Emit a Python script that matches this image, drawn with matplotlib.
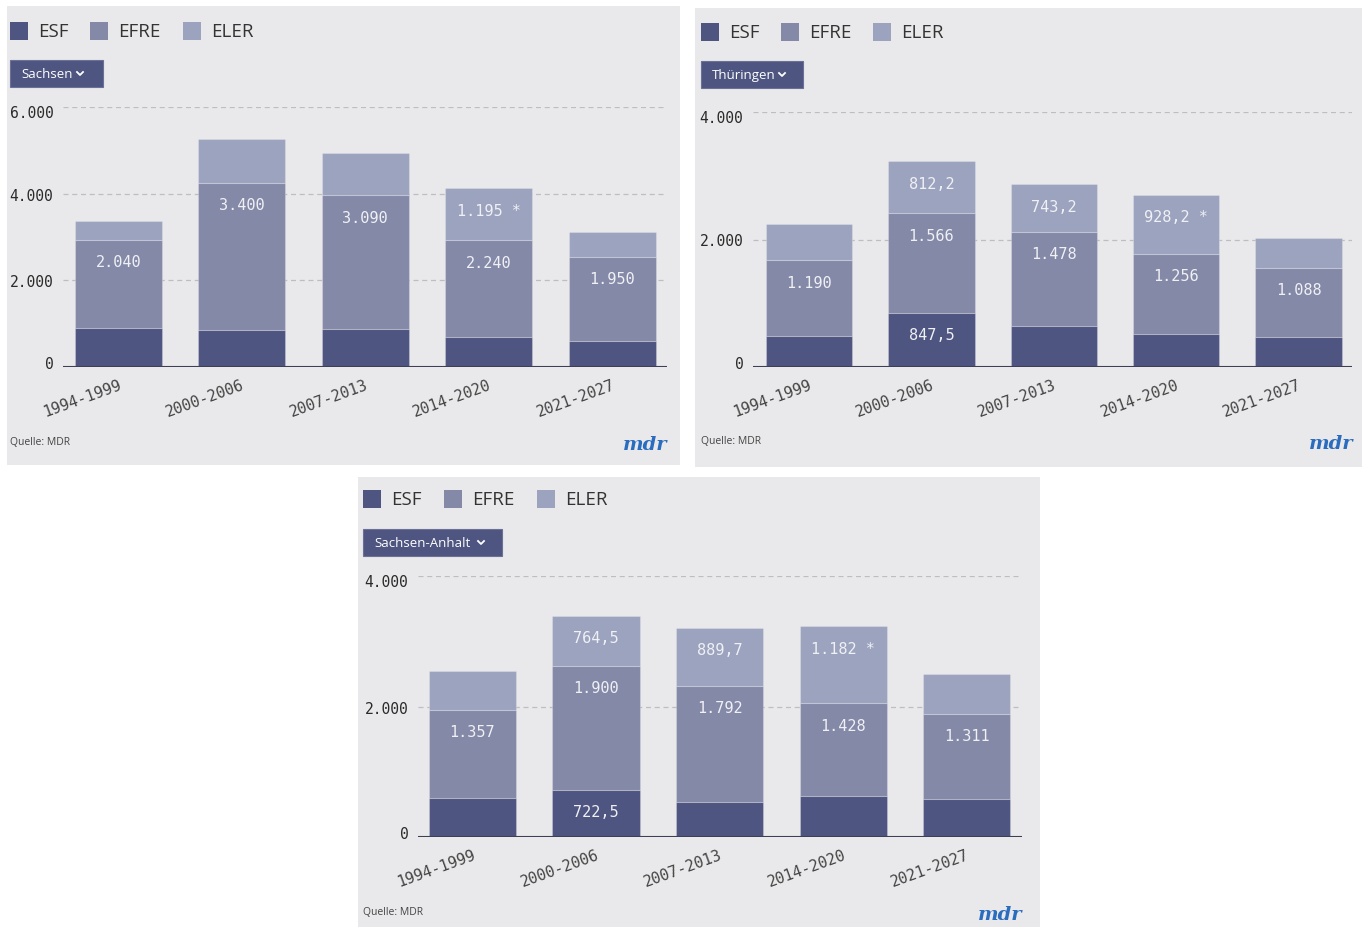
import matplotlib
matplotlib.use("Agg")
import matplotlib.pyplot as plt
from matplotlib.patches import Rectangle
from matplotlib.lines import Line2D
from matplotlib.transforms import ScaledTranslation

# ---------------- data ----------------
periods = ["1994-1999", "2000-2006", "2007-2013", "2014-2020", "2021-2027"]
series_names = ["ESF", "EFRE", "ELER"]

sachsen_esf = [900, 850, 873, 690, 598]
sachsen_efre = [2040, 3400, 3090, 2240, 1950]
sachsen_eler = [420, 1010, 980, 1195, 560]
sachsen_esf_labels = ["", "", "", "", ""]
sachsen_efre_labels = ["2.040", "3.400", "3.090", "2.240", "1.950"]
sachsen_eler_labels = ["", "", "", "1.195 *", ""]
sachsen_yticks = [0, 2000, 4000, 6000]
sachsen_yticklabels = ["0", "2.000", "4.000", "6.000"]

thueringen_esf = [486, 847.5, 643, 518, 470]
thueringen_efre = [1190, 1566, 1478, 1256, 1088]
thueringen_eler = [560, 812.2, 743.2, 928.2, 470]
thueringen_esf_labels = ["", "847,5", "", "", ""]
thueringen_efre_labels = ["1.190", "1.566", "1.478", "1.256", "1.088"]
thueringen_eler_labels = ["", "812,2", "743,2", "928,2 *", ""]
thueringen_yticks = [0, 2000, 4000]
thueringen_yticklabels = ["0", "2.000", "4.000"]

anhalt_esf = [591, 722.5, 529, 623, 576]
anhalt_efre = [1357, 1900, 1792, 1428, 1311]
anhalt_eler = [600, 764.5, 889.7, 1182, 610]
anhalt_esf_labels = ["", "722,5", "", "", ""]
anhalt_efre_labels = ["1.357", "1.900", "1.792", "1.428", "1.311"]
anhalt_eler_labels = ["", "764,5", "889,7", "1.182 *", ""]
anhalt_yticks = [0, 2000, 4000]
anhalt_yticklabels = ["0", "2.000", "4.000"]

# ---------------- style ----------------
W, H = 1367, 928
DPI = 100
colors = ["#4e5580", "#8389a7", "#9ba3be"]
bg = "#e9e9eb"
ui_font = "Open Sans"
mono = "DejaVu Sans Mono"

fig = plt.figure(figsize=(W / DPI, H / DPI), dpi=DPI, facecolor="white")


def fx(x):
    return x / W


def fy(y):
    return 1 - y / H


def panel(bgbox, axbox, xlim, top, legend_x, legend_y, button, btn_text,
          chev_x, quelle_xy, logo_xy, esf, efre, eler, labs, yticks, yticklabels):
    x0, y0, x1, y1 = bgbox
    fig.patches.append(Rectangle((fx(x0), fy(y1)), (x1 - x0) / W, (y1 - y0) / H,
                                 transform=fig.transFigure, facecolor=bg,
                                 edgecolor="none", zorder=-10))
    # legend
    for sx, name, c in zip(legend_x, series_names, colors):
        fig.patches.append(Rectangle((fx(sx), fy(legend_y + 18)), 18 / W, 18 / H,
                                     transform=fig.transFigure, facecolor=c,
                                     edgecolor="none", zorder=1))
        fig.text(fx(sx + 28), fy(legend_y + 9), name, fontsize=13.5,
                 family=ui_font, color="#333333", va="center", ha="left")
    # dropdown button
    bx0, by0, bx1, by1 = button
    fig.patches.append(Rectangle((fx(bx0), fy(by1)), (bx1 - bx0) / W, (by1 - by0) / H,
                                 transform=fig.transFigure, facecolor="#4e5580",
                                 edgecolor="#6a7096", linewidth=0.8, zorder=1))
    fig.text(fx(bx0 + 11), fy((by0 + by1) / 2), btn_text, fontsize=9.5,
             family=ui_font, color="white", va="center", ha="left")
    cy = (by0 + by1) / 2
    fig.lines.append(Line2D([fx(chev_x - 3), fx(chev_x), fx(chev_x + 3)],
                            [fy(cy - 1.5), fy(cy + 1.5), fy(cy - 1.5)],
                            transform=fig.transFigure, color="white", lw=1.3))
    # source + logo
    fig.text(fx(quelle_xy[0]), fy(quelle_xy[1]), "Quelle: MDR", fontsize=7.5,
             family=ui_font, color="#444444", va="center", ha="left")
    fig.text(fx(logo_xy[0]), fy(logo_xy[1]), "mdr", fontsize=14, family="DejaVu Serif",
             style="italic", weight="bold", color="#2a6cbd", va="center", ha="right")

    # axes
    ax0, ay0, ax1, ay1 = axbox
    ax = fig.add_axes([fx(ax0), fy(ay1), (ax1 - ax0) / W, (ay1 - ay0) / H])
    ax.set_facecolor("none")
    ax.set_xlim(*xlim)
    ax.set_ylim(0, top)
    for s in ax.spines.values():
        s.set_visible(False)
    ax.set_yticks(yticks)
    ax.set_yticklabels(yticklabels, family=mono, fontsize=10.5, color="#2a2a2a")
    ax.tick_params(axis="y", length=0, pad=7)
    labels = ax.get_yticklabels()
    for k, t in enumerate(labels):
        if k == 0:
            dy = 5
        elif k == len(labels) - 1:
            dy = -4
        else:
            dy = 0
        t.set_transform(t.get_transform() + ScaledTranslation(0, dy / DPI, fig.dpi_scale_trans))
    ax.set_xticks([])
    for yv in yticks[1:]:
        ax.axhline(yv, color="#bdbdc2", lw=0.9, ls=(0, (4, 3)), zorder=0)

    x = list(range(len(periods)))
    bottom = [0] * len(periods)
    for vals, c, lab in zip([esf, efre, eler], colors, labs):
        ax.bar(x, vals, bottom=bottom, width=0.705, color=c,
               edgecolor=(1, 1, 1, 0.22), linewidth=0.8, zorder=2)
        for i, (v, b, l) in enumerate(zip(vals, bottom, lab)):
            if l:
                ax.annotate(l, (i, b + v), xytext=(0, -22), textcoords="offset pixels",
                            ha="center", va="center", family=mono, fontsize=11,
                            color="#f0f0f5", zorder=3)
        bottom = [b + v for b, v in zip(bottom, vals)]
    ax.axhline(0, color="#3c3f55", lw=1.5, zorder=4)
    for i, p in enumerate(periods):
        ax.annotate(p, (i, 0), xycoords=("data", "data"), xytext=(2, -17),
                    textcoords="offset pixels", ha="right", va="center",
                    rotation=20, rotation_mode="anchor", family=mono,
                    fontsize=11, color="#444444", annotation_clip=False)
    return ax


panel(bgbox=(7, 7, 680, 466), axbox=(63, 108, 667, 368), xlim=(-0.45, 4.445),
      top=6000, legend_x=(10, 90, 183), legend_y=23, button=(10, 61, 103, 88),
      btn_text="Sachsen", chev_x=80, quelle_xy=(10, 443), logo_xy=(667, 445),
      esf=sachsen_esf, efre=sachsen_efre, eler=sachsen_eler,
      labs=[sachsen_esf_labels, sachsen_efre_labels, sachsen_eler_labels],
      yticks=sachsen_yticks, yticklabels=sachsen_yticklabels)

panel(bgbox=(695, 9, 1362, 468), axbox=(753, 113, 1352, 368), xlim=(-0.457, 4.436),
      top=4000, legend_x=(701, 781, 873), legend_y=24, button=(701, 62, 803, 89),
      btn_text="Thüringen", chev_x=782, quelle_xy=(701, 442), logo_xy=(1353, 444),
      esf=thueringen_esf, efre=thueringen_efre, eler=thueringen_eler,
      labs=[thueringen_esf_labels, thueringen_efre_labels, thueringen_eler_labels],
      yticks=thueringen_yticks, yticklabels=thueringen_yticklabels)

panel(bgbox=(358, 478, 1040, 928), axbox=(418, 577, 1022, 838), xlim=(-0.44, 4.446),
      top=4000, legend_x=(363, 444, 537), legend_y=491, button=(363, 530, 502, 557),
      btn_text="Sachsen-Anhalt", chev_x=481, quelle_xy=(363, 913), logo_xy=(1022, 915),
      esf=anhalt_esf, efre=anhalt_efre, eler=anhalt_eler,
      labs=[anhalt_esf_labels, anhalt_efre_labels, anhalt_eler_labels],
      yticks=anhalt_yticks, yticklabels=anhalt_yticklabels)

fig.savefig("out.png", dpi=DPI, facecolor="white")
